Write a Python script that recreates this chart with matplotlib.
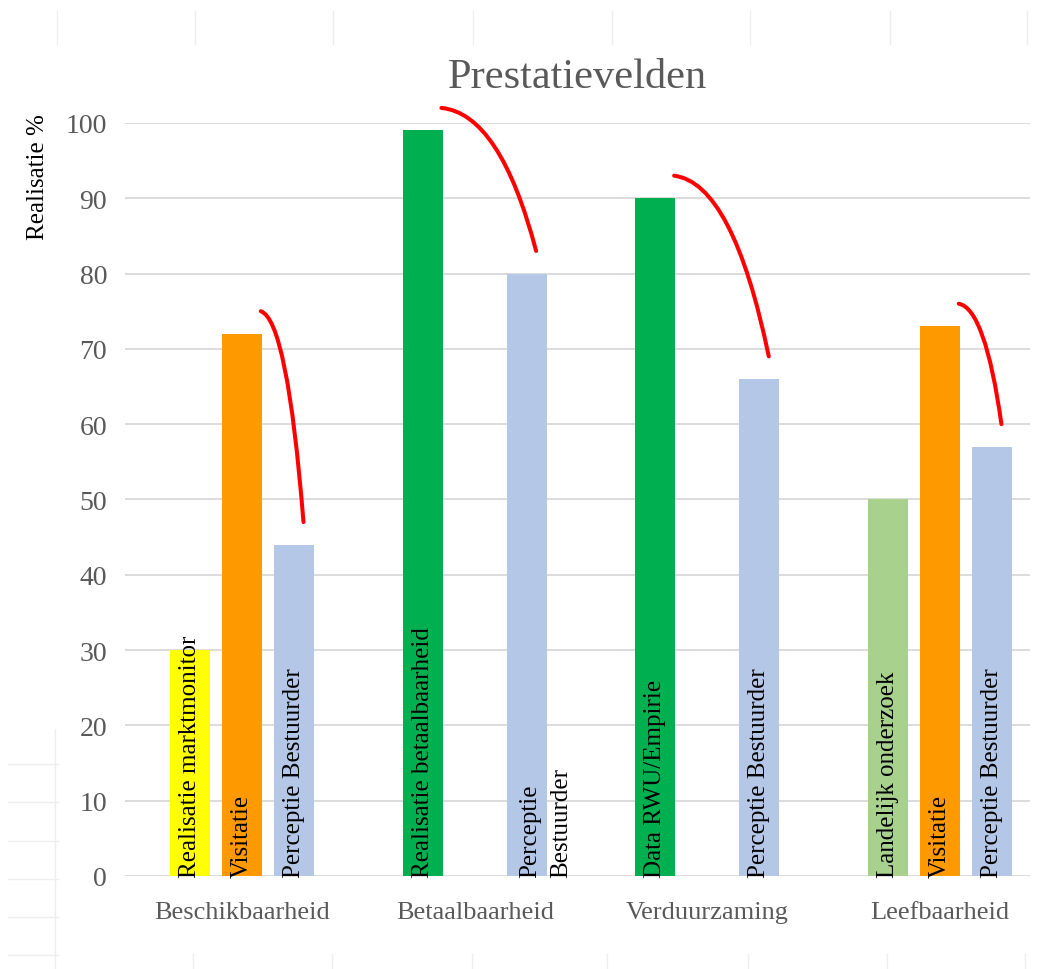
import matplotlib.pyplot as plt
import numpy as np
from matplotlib.path import Path
from matplotlib.patches import PathPatch
from matplotlib.lines import Line2D

# Data
categories = ['Beschikbaarheid', 'Betaalbaarheid', 'Verduurzaming', 'Leefbaarheid']
bar_group = [0, 0, 0, 1, 1, 2, 2, 3, 3, 3]
bar_slot = [-1, 0, 1, -1, 1, -1, 1, -1, 0, 1]
bar_values = [30, 72, 44, 99, 80, 90, 66, 50, 73, 57]
bar_labels = ['Realisatie marktmonitor', 'Visitatie', 'Perceptie Bestuurder',
              'Realisatie betaalbaarheid', 'Perceptie\nBestuurder',
              'Data RWU/Empirie', 'Perceptie Bestuurder',
              'Landelijk onderzoek', 'Visitatie', 'Perceptie Bestuurder']
bar_colors = ['#FFFF00', '#FF9900', '#B4C7E7', '#00B050', '#B4C7E7',
              '#00B050', '#B4C7E7', '#A9D18E', '#FF9900', '#B4C7E7']
# rode bogen: van balk -> naar balk
arc_pairs = [(1, 2), (3, 4), (5, 6), (8, 9)]

serif = 'Liberation Serif'
grijs = '#595959'

fig = plt.figure(figsize=(10.43, 9.70), dpi=100)
ax = fig.add_axes([0.120, 0.0959, 0.8677, 0.7763])

slot_w = 0.2235
bar_w = 0.172
x = np.array(bar_group) + np.array(bar_slot) * slot_w

ax.bar(x, bar_values, width=bar_w, color=bar_colors, zorder=2)

# labels in de balken
fs = 18
for xi, lab in zip(x, bar_labels):
    n = lab.count('\n') + 1
    ax.annotate(lab, (xi, 0), xytext=(0.75 * fs * (n - 1), -1), textcoords='offset points',
                rotation=90, rotation_mode='anchor', ha='left', va='center',
                fontsize=fs, family=serif, color='black', linespacing=1.5, zorder=3)

# rode bogen
for a, b in arc_pairs:
    x0, y0 = x[a] + 0.08, bar_values[a] + 3
    x1, y1 = x[b] + 0.04, bar_values[b] + 3
    cx, cy = x0 + 0.62 * (x1 - x0), y0 - 0.04 * (y0 - y1)
    p = Path([(x0, y0), (cx, cy), (x1, y1)], [Path.MOVETO, Path.CURVE3, Path.CURVE3])
    ax.add_patch(PathPatch(p, fill=False, edgecolor='#FF0000', lw=2.9,
                           capstyle='round', clip_on=False, zorder=4))

ax.set_xlim(-0.503, 3.387)
ax.set_ylim(0, 100)
ax.set_yticks(np.arange(0, 101, 10))
ax.set_xticks(range(len(categories)))
ax.set_xticklabels(categories, family=serif, fontsize=19, color=grijs)
for t in ax.get_yticklabels():
    t.set_family(serif)
    t.set_fontsize(20)
    t.set_color(grijs)
ax.tick_params(axis='both', length=0)
ax.tick_params(axis='y', pad=13)
ax.tick_params(axis='x', pad=18)
ax.grid(axis='y', color='#D9D9D9', lw=1.3, zorder=0)
ax.set_axisbelow(True)
for s in ax.spines.values():
    s.set_visible(False)

ax.set_title('Prestatievelden', family=serif, fontsize=30.5, color=grijs, pad=26)
fig.text(0.036, 0.817, 'Realisatie %', rotation=90, ha='center', va='center',
         family=serif, fontsize=18, color='black')

# vage achtergrondlijnen van het werkblad
lc = '#EEEEEE'
for px in [57, 195, 333, 473, 612, 750, 890, 1027]:
    fig.add_artist(Line2D([px / 1043] * 2, [1 - 12 / 970, 1 - 45 / 970], color=lc, lw=1))
for py in [765, 803, 842, 880, 918, 956]:
    fig.add_artist(Line2D([8 / 1043, 58 / 1043], [1 - py / 970] * 2, color=lc, lw=1))
fig.add_artist(Line2D([55 / 1043] * 2, [1 - 730 / 970, 0], color=lc, lw=1))
for px in [193, 332, 472, 607, 748, 887, 1025]:
    fig.add_artist(Line2D([px / 1043] * 2, [1 - 955 / 970, 0], color=lc, lw=1))

fig.savefig('out.png', dpi=100)
